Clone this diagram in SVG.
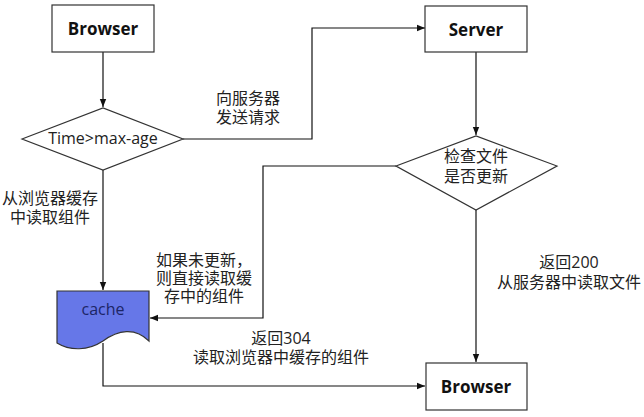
<svg xmlns="http://www.w3.org/2000/svg" width="644" height="417" viewBox="0 0 644 417">
<defs>
<marker id="ah" viewBox="0 0 8 8" refX="8" refY="4" markerWidth="8" markerHeight="8" markerUnits="userSpaceOnUse" orient="auto">
<path d="M0,0.8 L8,4 L0,7.2 Z" fill="#111"/>
</marker>
<style>
.box{fill:#fff;stroke:#333;stroke-width:1.2}
.bt{font-family:"Open Sans","Noto Sans CJK SC",sans-serif;font-weight:bold;font-size:17px;fill:#111;text-anchor:middle;dominant-baseline:central}
.t{font-family:"Open Sans","Noto Sans CJK SC",sans-serif;font-size:16px;fill:#222;dominant-baseline:central}
.c{text-anchor:middle}
.ln{fill:none;stroke:#111;stroke-width:1.2}
</style>
</defs>
<rect width="644" height="417" fill="#fff"/>
<g id="connectors">
<path class="ln" d="M103,52 V107" marker-end="url(#ah)"/>
<path class="ln" d="M183,139 H312 V28 H425" marker-end="url(#ah)"/>
<path class="ln" d="M476,52 V135" marker-end="url(#ah)"/>
<path class="ln" d="M396,166 H263 V318 H150" marker-end="url(#ah)"/>
<path class="ln" d="M476,210 V362" marker-end="url(#ah)"/>
<path class="ln" d="M103,170 V290" marker-end="url(#ah)"/>
<path class="ln" d="M103,343 V386 H425" marker-end="url(#ah)"/>
</g>
<g id="browser-top">
<rect class="box" x="52" y="5" width="102" height="47"/>
<text class="bt" x="103" y="28.5">Browser</text>
</g>
<g id="server">
<rect class="box" x="425" y="6" width="102" height="46"/>
<text class="bt" x="476" y="29">Server</text>
</g>
<g id="decision-time">
<polygon class="box" points="22,139 103,108 183,139 103,170"/>
<text class="t c" x="103" y="138">Time&gt;max-age</text>
</g>
<g id="decision-check">
<polygon class="box" points="396,166 476,136 557,166 476,210"/>
<text class="t c" x="476" y="156">检查文件</text>
<text class="t c" x="476" y="176">是否更新</text>
</g>
<g id="cache">
<path d="M57,291 H149 V341 C135,327 118,330 103,341 C88,351 70,351 57,343 Z" fill="#6677e8" stroke="#333" stroke-width="1.2"/>
<text class="t c" x="103" y="309" style="fill:#1c2566">cache</text>
</g>
<g id="browser-bottom">
<rect class="box" x="426" y="363" width="101" height="47"/>
<text class="bt" x="476" y="386">Browser</text>
</g>
<g id="labels">
<text class="t c" x="248" y="98">向服务器</text>
<text class="t c" x="248" y="117">发送请求</text>
<text class="t c" x="50" y="198">从浏览器缓存</text>
<text class="t c" x="50" y="217">中读取组件</text>
<text class="t c" x="204" y="260">如果未更新，</text>
<text class="t c" x="204" y="278">则直接读取缓</text>
<text class="t c" x="204" y="296">存中的组件</text>
<text class="t c" x="281" y="338">返回304</text>
<text class="t c" x="281" y="357">读取浏览器中缓存的组件</text>
<text class="t c" x="569" y="262">返回200</text>
<text class="t c" x="569" y="282">从服务器中读取文件</text>
</g>
</svg>
